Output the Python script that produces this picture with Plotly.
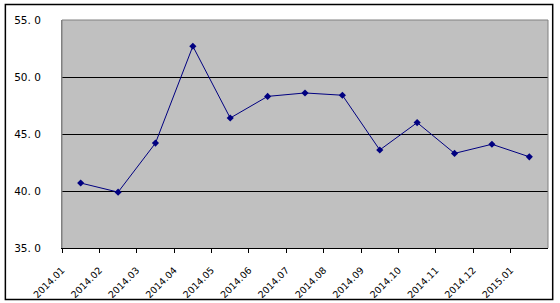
import plotly.graph_objects as go

months = ["2014.01", "2014.02", "2014.03", "2014.04", "2014.05", "2014.06", "2014.07",
          "2014.08", "2014.09", "2014.10", "2014.11", "2014.12", "2015.01"]
values = [40.7, 39.9, 44.2, 52.7, 46.4, 48.3, 48.6, 48.4, 43.6, 46.0, 43.3, 44.1, 43.0]
y_ticks = [35, 40, 45, 50, 55]
y_ticktext = ["35. 0", "40. 0", "45. 0", "50. 0", "55. 0"]

n = len(months)
x_centers = [i + 0.5 for i in range(n)]

FONT = "DejaVu Sans, sans-serif"

fig = go.Figure()
fig.add_trace(go.Scatter(
    x=x_centers, y=values, mode="lines+markers",
    line=dict(color="#000080", width=1),
    marker=dict(symbol="diamond", size=5.5, color="#000080"),
    showlegend=False, hoverinfo="skip",
))

W, H = 560, 303
L, R, T, B = 61.7, 11.7, 19.5, 54.7
pw, ph = W - L - R, H - T - B

fig.update_layout(
    width=W, height=H,
    margin=dict(l=L, r=R, t=T, b=B, pad=0),
    paper_bgcolor="white",
    plot_bgcolor="#C0C0C0",
    font=dict(family=FONT, size=10, color="black"),
    xaxis=dict(
        range=[0, n], tickmode="array",
        tickvals=list(range(n)), ticktext=months,
        tickangle=-45, ticks="outside", ticklen=4, tickcolor="black", tickwidth=1,
        ticklabelstandoff=8, automargin=False,
        showline=True, linecolor="black", linewidth=1,
        showgrid=False, zeroline=False,
        tickfont=dict(family=FONT, size=9.5),
    ),
    yaxis=dict(
        range=[35, 55], tickmode="array",
        tickvals=y_ticks, ticktext=y_ticktext,
        ticks="", ticklabelstandoff=18, automargin=False,
        showgrid=True, gridcolor="black", gridwidth=1,
        showline=True, linecolor="#808080", linewidth=1,
        zeroline=False,
        tickfont=dict(family=FONT, size=10.5),
    ),
)

# plot-area frame (gray)
fig.add_shape(type="line", xref="paper", yref="paper", x0=0, x1=1, y0=1, y1=1,
              line=dict(color="#808080", width=1), layer="above")
fig.add_shape(type="line", xref="paper", yref="paper", x0=0, x1=0, y0=0, y1=1,
              line=dict(color="#808080", width=1), layer="above")
fig.add_shape(type="line", xref="paper", yref="paper", x0=1, x1=1, y0=0, y1=1,
              line=dict(color="#808080", width=1), layer="above")

# outer chart border
fig.add_shape(type="rect", xref="paper", yref="paper",
              x0=(5 - L) / pw, x1=(553 - L) / pw,
              y0=(T + ph - 300) / ph, y1=(T + ph - 4) / ph,
              line=dict(color="black", width=1.5), layer="above", fillcolor="rgba(0,0,0,0)")

fig.write_html("out.html")
